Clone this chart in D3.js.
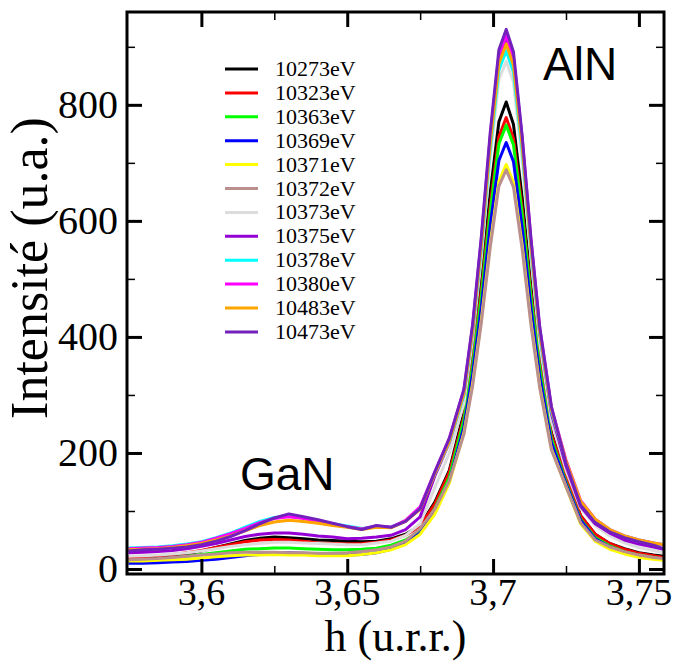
<!DOCTYPE html>
<html><head><meta charset="utf-8">
<script src="https://cdn.jsdelivr.net/npm/d3@7/dist/d3.min.js"></script>
<style>body{margin:0;background:#fff}svg{display:block}</style>
</head><body>
<svg id="c" width="673" height="662"></svg>
<script>
// h values (u.r.r.)
const hValues = [3.575,3.580,3.585,3.590,3.595,3.600,3.605,3.610,3.615,3.620,3.625,3.630,3.635,3.640,3.645,3.650,3.655,3.660,3.665,3.670,3.675,
  3.680,3.685,3.690,3.693,3.696,3.699,3.702,3.7045,3.707,3.710,3.713,3.716,3.720,3.725,
  3.730,3.735,3.740,3.745,3.750,3.755,3.7585];

const e10273 = [15,17,19,22,26,31,37,43,49,53,55,54,52,50,49,48,47,48,52,60,75, 115,170,270,371,496,647,771,805,766,639,487,360,235,160, 92,60,44,35,28,24,22];
const e10323 = [20,21,23,25,28,32,37,42,47,50,51,50,48,45,44,43,44,46,50,58,74, 112,167,262,360,481,626,745,778,742,620,475,352,232,158, 92,60,44,34,27,23,20];
const e10363 = [14,15,17,19,22,25,28,31,34,35,36,36,35,34,33,33,34,36,41,50,66, 104,158,257,350,471,615,733,765,731,611,467,345,225,150, 86,54,40,30,24,20,17];
const e10369 = [10,10,11,12,13,15,17,20,23,25,27,28,27,26,25,24,25,28,34,44,62, 98,150,245,337,452,591,704,735,702,587,449,332,218,147, 84,52,38,28,22,18,16];
const e10371 = [14,14,15,16,17,19,21,23,24,24,25,24,24,23,23,23,25,28,33,42,60, 94,148,235,320,430,560,668,697,666,557,426,316,207,142, 78,48,34,26,20,17,15];
const e10372 = [16,17,18,20,22,24,26,28,29,29,29,28,28,27,27,28,30,33,38,48,70, 103,152,232,316,425,553,660,688,658,550,420,312,205,142, 80,50,38,30,24,20,18];
const e10373 = [22,23,24,26,28,31,35,39,42,44,46,46,45,44,43,42,42,45,48,58,78, 140,200,285,397,538,707,844,875,839,702,536,388,255,170, 105,75,57,45,37,32,28];
const e10375 = [28,29,30,32,35,39,44,50,56,60,62,62,60,57,55,52,53,55,58,68,90, 160,218,302,412,562,736,878,912,874,733,559,407,268,178, 108,78,62,50,43,38,34];
const e10378 = [36,37,38,40,43,47,54,62,72,82,89,91,88,83,78,74,70,73,72,83,106, 164,219,300,408,553,722,860,893,856,719,551,404,272,185, 115,85,68,57,50,45,42];
const e10380 = [35,36,37,39,42,46,53,61,70,80,87,90,87,82,77,73,69,74,72,84,107, 167,225,308,419,569,744,886,920,882,741,566,415,278,188, 118,86,68,57,50,45,42];
const e10483 = [33,34,35,37,40,44,50,57,66,75,81,84,82,79,75,72,68,72,71,82,103, 164,220,303,412,560,731,871,905,868,728,557,409,275,186, 117,86,68,57,50,45,42];
const e10473 = [31,33,34,36,38,42,48,56,66,78,88,95,90,85,79,73,68,75,72,82,104, 167,225,310,422,574,751,895,930,891,745,569,417,280,182, 110,80,64,54,47,41,35];

const seriesLabels = ["10273eV","10323eV","10363eV","10369eV","10371eV","10372eV","10373eV","10375eV","10378eV","10380eV","10483eV","10473eV"];
const seriesValues = [e10273,e10323,e10363,e10369,e10371,e10372,e10373,e10375,e10378,e10380,e10483,e10473];
const seriesColors = ["#000000","#ff0000","#00ff00","#0000ff","#ffff00","#bc8f8f","#dcdcdc","#9400d3","#00ffff","#ff00ff","#ffa500","#7221bc"];

const xMajorTicks = [3.6,3.65,3.7,3.75];
const xMinorTicks = [3.625,3.675,3.725];
const xTickLabels = ["3,6","3,65","3,7","3,75"];
const yMajorTicks = [0,200,400,600,800];
const yMinorTicks = [100,300,500,700,900];
const yTickLabels = ["0","200","400","600","800"];

const L=127,R=664,T=12,B=574;
const x = d3.scaleLinear().domain([3.5745,3.7586]).range([L,R]);
const y = d3.scaleLinear().domain([-8.6,960]).range([B,T]);
const svg = d3.select("#c");

svg.append("clipPath").attr("id","clip").append("rect").attr("x",L).attr("y",T).attr("width",R-L).attr("height",B-T);

const line = d3.line().x(d=>x(d[0])).y(d=>y(d[1]));
const g = svg.append("g").attr("clip-path","url(#clip)");
seriesValues.forEach((vals,i)=>{
  g.append("path").datum(hValues.map((h,j)=>[h,vals[j]]))
    .attr("d",line).attr("fill","none").attr("stroke",seriesColors[i])
    .attr("stroke-width",3).attr("stroke-linejoin","round");
});

function ticks(axisGen, transform, vals, size, width){
  const a = svg.append("g").attr("transform",transform)
    .call(axisGen.tickValues(vals).tickSize(size).tickFormat(""));
  a.select(".domain").remove();
  a.selectAll("line").attr("stroke","#000").attr("stroke-width",width);
}
ticks(d3.axisBottom(x), `translate(0,${B})`, xMajorTicks, -15, 3);
ticks(d3.axisBottom(x), `translate(0,${B})`, xMinorTicks, -8, 1.5);
ticks(d3.axisTop(x), `translate(0,${T})`, xMajorTicks, -15, 3);
ticks(d3.axisTop(x), `translate(0,${T})`, xMinorTicks, -8, 1.5);
ticks(d3.axisLeft(y), `translate(${L},0)`, yMajorTicks, -15, 3);
ticks(d3.axisLeft(y), `translate(${L},0)`, yMinorTicks, -8, 1.5);
ticks(d3.axisRight(y), `translate(${R},0)`, yMajorTicks, -15, 3);
ticks(d3.axisRight(y), `translate(${R},0)`, yMinorTicks, -8, 1.5);

svg.append("rect").attr("x",L).attr("y",T).attr("width",R-L).attr("height",B-T)
  .attr("fill","none").attr("stroke","#000").attr("stroke-width",3);

const serif = "'Liberation Serif','DejaVu Serif',serif";
const sans = "'Liberation Sans',Arial,sans-serif";

svg.append("g").selectAll("text").data(xMajorTicks).join("text")
  .attr("x",d=>x(d)).attr("y",605).attr("text-anchor","middle")
  .attr("font-family",serif).attr("font-size",38).text((d,i)=>xTickLabels[i]);
svg.append("g").selectAll("text").data(yMajorTicks).join("text")
  .attr("x",118).attr("y",d=>y(d)+13).attr("text-anchor","end")
  .attr("font-family",serif).attr("font-size",40).text((d,i)=>yTickLabels[i]);

svg.append("text").attr("x",(L+R)/2).attr("y",651).attr("text-anchor","middle")
  .attr("font-family",serif).attr("font-size",44).text("h (u.r.r.)");
svg.append("text").attr("transform","translate(47,268) rotate(-90)").attr("text-anchor","middle")
  .attr("font-family",serif).attr("font-size",52).text("Intensité (u.a.)");

svg.append("text").attr("x",543).attr("y",80).attr("font-family",sans).attr("font-size",46).text("AlN");
svg.append("text").attr("x",240).attr("y",490).attr("font-family",sans).attr("font-size",46).text("GaN");

const lg = svg.append("g");
seriesLabels.forEach((lab,i)=>{
  const yy = 69 + i*23.9;
  lg.append("line").attr("x1",225).attr("x2",258).attr("y1",yy).attr("y2",yy)
    .attr("stroke",seriesColors[i]).attr("stroke-width",3);
  lg.append("text").attr("x",275).attr("y",yy+7).attr("font-family",serif)
    .attr("font-size",22).text(lab);
});
</script>
</body></html>
